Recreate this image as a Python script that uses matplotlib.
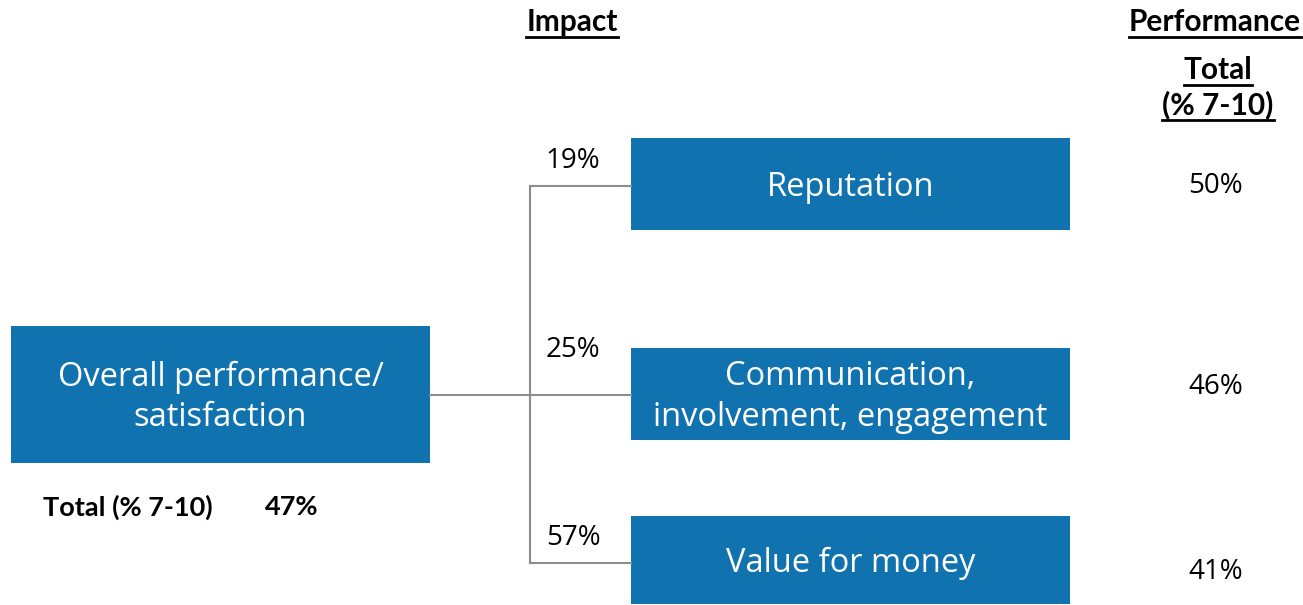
import matplotlib.pyplot as plt
from matplotlib.patches import Rectangle

# data
drivers = ['Reputation', 'Communication,\ninvolvement, engagement', 'Value for money']
impact = ['19%', '25%', '57%']
performance = ['50%', '46%', '41%']
overall_label = 'Overall performance/\nsatisfaction'
overall_total = '47%'

blue = '#1172b0'
grey = '#8c8c8c'
font = 'Open Sans'
bold_font = 'Lato'

fig = plt.figure(figsize=(13.03, 6.05), dpi=100)
ax = fig.add_axes([0, 0, 1, 1])
ax.set_xlim(0, 1303)
ax.set_ylim(605, 0)
ax.axis('off')

# layout in pixel coords
left_box = (11, 326, 430, 463)
right_boxes = [(631, 138, 1070, 230), (631, 348, 1070, 440), (631, 516, 1070, 604)]
branch_y = [186, 395, 563]
impact_y = [161, 350, 538]
perf_y = [186, 387, 572]
trunk_x = 530

x0, y0, x1, y1 = left_box
ax.add_patch(Rectangle((x0, y0), x1 - x0, y1 - y0, fc=blue, ec='none'))
ax.text((x0 + x1) / 2, (y0 + y1) / 2 + 3, overall_label, ha='center', va='center',
        color='white', fontsize=23.5, family=font, linespacing=1.3)

# connectors
cy = (y0 + y1) / 2
ax.plot([x1, trunk_x], [cy, cy], color=grey, lw=1.5)
ax.plot([trunk_x, trunk_x], [branch_y[0], branch_y[-1]], color=grey, lw=1.5)

for (bx0, by0, bx1, by1), name, imp, perf, yl, yi, yp in zip(
        right_boxes, drivers, impact, performance, branch_y, impact_y, perf_y):
    ax.add_patch(Rectangle((bx0, by0), bx1 - bx0, by1 - by0, fc=blue, ec='none'))
    ax.text((bx0 + bx1) / 2, (by0 + by1) / 2 + 3, name, ha='center', va='center',
            color='white', fontsize=23.5, family=font, linespacing=1.3)
    ax.plot([trunk_x, bx0], [yl, yl], color=grey, lw=1.5)
    ax.text(573, yi, imp, ha='center', va='center', fontsize=20, family=font)
    ax.text(1216, yp, perf, ha='center', va='center', fontsize=20, family=font)

headers = [('Impact', 572, 22), ('Performance', 1215, 22), ('Total', 1218, 70), ('(% 7-10)', 1218, 105)]
htexts = []
for s, x, y in headers:
    htexts.append(ax.text(x, y, s, ha='center', va='center', fontsize=21.5,
                          family=bold_font, weight='bold'))

ax.text(128, 507, 'Total (% 7-10)', ha='center', va='center', fontsize=19.5,
        family=bold_font, weight='bold')
ax.text(292, 507, overall_total, ha='center', va='center', fontsize=19.5,
        family=bold_font, weight='bold')

# underline headers
fig.canvas.draw()
r = fig.canvas.get_renderer()
inv = ax.transData.inverted()
for t in htexts:
    bb = t.get_window_extent(r)
    (ux0, uy), (ux1, _) = inv.transform([(bb.x0, bb.y0), (bb.x1, bb.y0)])
    ax.plot([ux0, ux1], [uy + 1, uy + 1], color='black', lw=2)

fig.savefig('out.png', dpi=100)
